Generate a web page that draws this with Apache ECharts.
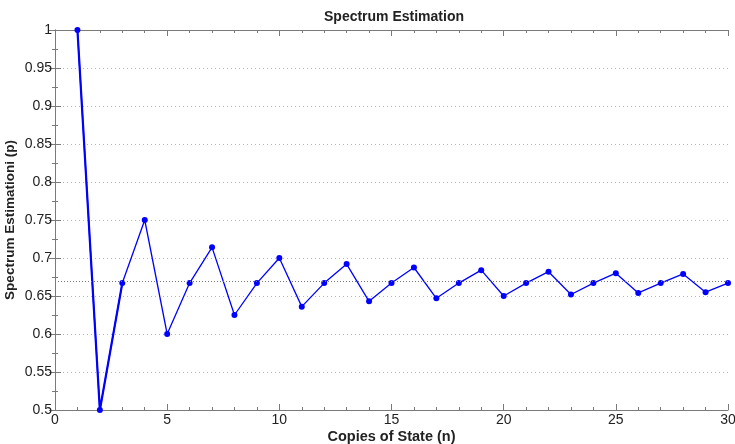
<!DOCTYPE html>
<html>
<head>
<meta charset="utf-8">
<script src="https://cdn.jsdelivr.net/npm/echarts@6/dist/echarts.min.js"></script>
<style>
  html, body { margin: 0; padding: 0; background: #fff; }
  #chart { width: 735px; height: 444px; }
</style>
</head>
<body>
<div id="chart"></div>
<script>
// copies of state n
const copies = [1, 2, 3, 4, 5, 6, 7, 8, 9, 10, 11, 12, 13, 14, 15, 16, 17, 18, 19, 20, 21, 22, 23, 24, 25, 26, 27, 28, 29, 30]
// spectrum estimate p
const estimate = [1, 0.5, 0.667, 0.75, 0.6, 0.667, 0.714, 0.625, 0.667, 0.7,
  0.636, 0.667, 0.692, 0.643, 0.667, 0.6875, 0.647, 0.667, 0.684, 0.65,
  0.667, 0.682, 0.652, 0.667, 0.68, 0.654, 0.667, 0.679, 0.655, 0.667]
const refLevel = 0.6667

const chart = echarts.init(document.getElementById('chart'))
const font = 'Arial, "Liberation Sans", sans-serif'
const axisColor = '#7a7a7a'

const points = copies.map((n, i) => [n, estimate[i]])

const hiddenAxis = {
  axisLabel: { show: false },
  splitLine: { show: false },
}

chart.setOption({
  animation: false,
  backgroundColor: '#fff',
  title: {
    text: 'Spectrum Estimation',
    left: 389, top: 5, textAlign: 'center',
    textStyle: { fontFamily: font, fontSize: 14, fontWeight: 'bold', color: '#222' },
  },
  grid: { left: 55, right: 7, top: 30, bottom: 34, outerBoundsMode: 'none' },
  xAxis: [{
    type: 'value', min: 0, max: 30, interval: 5,
    name: 'Copies of State (n)', nameLocation: 'middle', nameGap: 19, nameMoveOverlap: false,
    nameTextStyle: { fontFamily: font, fontSize: 14.5, fontWeight: 'bold', color: '#222' },
    axisLine: { lineStyle: { color: axisColor } },
    axisTick: { inside: true, length: 6, lineStyle: { color: axisColor } },
    minorTick: { show: true, splitNumber: 5, length: 3, lineStyle: { color: axisColor } },
    axisLabel: { fontFamily: font, fontSize: 14, color: '#222', margin: 3 },
    splitLine: { show: false },
  }, Object.assign({
    type: 'value', min: 0, max: 30, interval: 5, position: 'top',
    axisLine: { show: true, lineStyle: { color: axisColor } },
    axisTick: { inside: true, length: 6, lineStyle: { color: axisColor } },
    minorTick: { show: true, splitNumber: 5, length: 3, lineStyle: { color: axisColor } },
  }, hiddenAxis)],
  yAxis: [{
    type: 'value', min: 0.5, max: 1, interval: 0.05,
    name: 'Spectrum Estimationi (p)', nameLocation: 'middle', nameGap: 38, nameMoveOverlap: false,
    nameTextStyle: { fontFamily: font, fontSize: 13.5, fontWeight: 'bold', color: '#222' },
    axisLine: { show: true, lineStyle: { color: axisColor } },
    axisTick: { show: true, inside: true, length: 6, lineStyle: { color: axisColor } },
    minorTick: { show: true, splitNumber: 2, length: 3, lineStyle: { color: axisColor } },
    axisLabel: {
      fontFamily: font, fontSize: 14, color: '#222', margin: 3,
      formatter: v => String(parseFloat(v.toFixed(2))),
    },
    splitLine: { show: true, lineStyle: { color: '#b4b4b4', type: [1, 3], width: 1 } },
  }, Object.assign({
    type: 'value', min: 0.5, max: 1, interval: 0.05, position: 'right',
    axisLine: { show: true, lineStyle: { color: axisColor } },
    axisTick: { show: true, inside: true, length: 6, lineStyle: { color: axisColor } },
    minorTick: { show: true, splitNumber: 2, length: 3, lineStyle: { color: axisColor } },
  }, hiddenAxis)],
  series: [{
    type: 'line',
    data: points,
    symbol: 'circle', symbolSize: 6,
    itemStyle: { color: '#0000ff' },
    lineStyle: { color: '#0000ff', width: 1.3 },
    markLine: {
      silent: true, symbol: 'none', label: { show: false },
      lineStyle: { color: '#777', type: [1, 2], width: 1 },
      data: [{ yAxis: refLevel }],
    },
    z: 3,
  }, {
    type: 'line',
    data: points.slice(0, 3),
    symbol: 'none',
    lineStyle: { color: '#0000ff', width: 2.2 },
    z: 3,
  }],
})
</script>
</body>
</html>
